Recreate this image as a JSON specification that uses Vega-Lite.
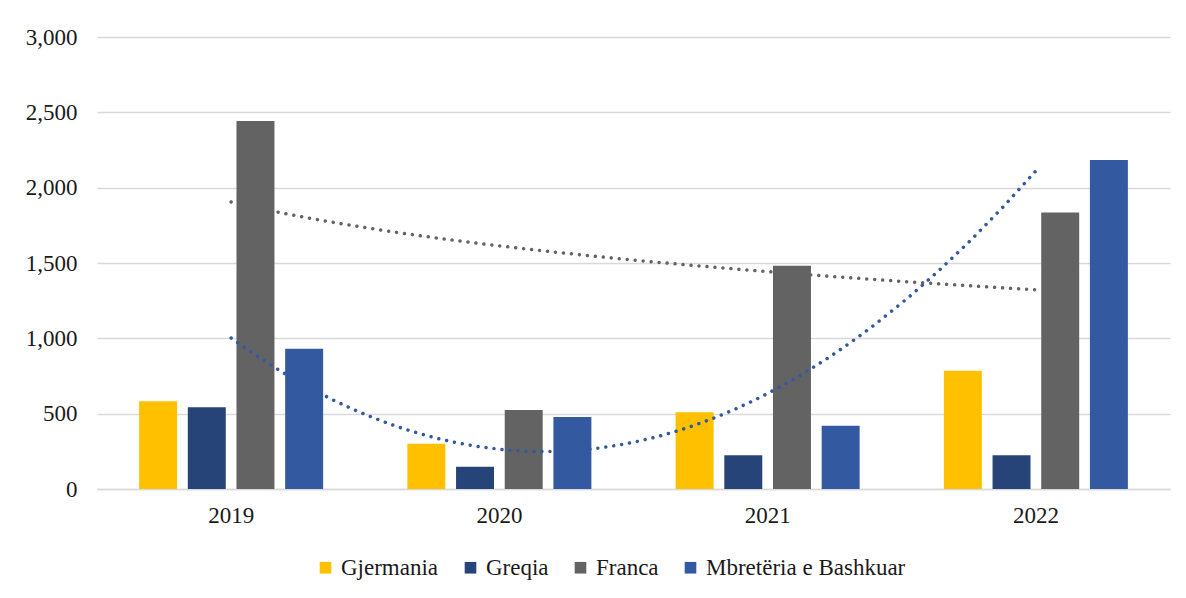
{
  "$schema": "https://vega.github.io/schema/vega-lite/v6.json",
  "width": 1073,
  "height": 452,
  "autosize": {"type": "none"},
  "padding": {"left": 97, "top": 37, "right": 16, "bottom": 109},
  "background": "white",
  "config": {
    "view": {"stroke": null},
    "font": "Liberation Serif",
    "axis": {"labelFont": "Liberation Serif", "labelFontSize": 23, "labelColor": "#1a1a1a"},
    "legend": {"labelFont": "Liberation Serif", "labelFontSize": 23, "labelColor": "#1a1a1a"}
  },
  "data": {
    "values": [
      {"year": "2019", "index": 1, "country": "Gjermania", "value": 582},
      {"year": "2019", "index": 1, "country": "Greqia", "value": 542},
      {"year": "2019", "index": 1, "country": "Franca", "value": 2442},
      {"year": "2019", "index": 1, "country": "Mbretëria e Bashkuar", "value": 931},
      {"year": "2020", "index": 2, "country": "Gjermania", "value": 301},
      {"year": "2020", "index": 2, "country": "Greqia", "value": 148},
      {"year": "2020", "index": 2, "country": "Franca", "value": 524},
      {"year": "2020", "index": 2, "country": "Mbretëria e Bashkuar", "value": 478},
      {"year": "2021", "index": 3, "country": "Gjermania", "value": 509},
      {"year": "2021", "index": 3, "country": "Greqia", "value": 224},
      {"year": "2021", "index": 3, "country": "Franca", "value": 1482},
      {"year": "2021", "index": 3, "country": "Mbretëria e Bashkuar", "value": 420},
      {"year": "2022", "index": 4, "country": "Gjermania", "value": 785},
      {"year": "2022", "index": 4, "country": "Greqia", "value": 224},
      {"year": "2022", "index": 4, "country": "Franca", "value": 1836},
      {"year": "2022", "index": 4, "country": "Mbretëria e Bashkuar", "value": 2183}
    ]
  },
  "layer": [
    {
      "mark": {"type": "bar"},
      "encoding": {
        "x": {
          "field": "year", "type": "ordinal",
          "scale": {"paddingInner": 0.314, "paddingOuter": 0.157},
          "axis": {"title": null, "labelAngle": 0, "ticks": false, "domainColor": "#d9d9d9", "domainWidth": 1.5, "labelPadding": 15, "labelFont": "Liberation Serif", "labelFontSize": 23}
        },
        "xOffset": {
          "field": "country", "type": "nominal",
          "sort": ["Gjermania", "Greqia", "Franca", "Mbretëria e Bashkuar"],
          "scale": {"paddingInner": 0.22, "paddingOuter": 0}
        },
        "y": {
          "field": "value", "type": "quantitative",
          "scale": {"domain": [0, 3000], "nice": false},
          "axis": {"title": null, "values": [0, 500, 1000, 1500, 2000, 2500, 3000], "format": ",.0f", "domain": false, "ticks": false, "gridColor": "#d9d9d9", "gridWidth": 1.4, "labelPadding": 20, "labelFont": "Liberation Serif", "labelFontSize": 23}
        },
        "color": {
          "field": "country", "type": "nominal",
          "scale": {
            "domain": ["Gjermania", "Greqia", "Franca", "Mbretëria e Bashkuar"],
            "range": ["#FFC000", "#264478", "#636363", "#335AA0"]
          },
          "legend": {
            "title": null, "orient": "none", "direction": "horizontal",
            "legendX": 217, "legendY": 519,
            "symbolType": "square", "symbolSize": 135, "symbolStrokeWidth": 0,
            "labelOffset": 4, "columnPadding": 20, "labelLimit": 400,
            "labelFont": "Liberation Serif", "labelFontSize": 23
          }
        }
      }
    },
    {
      "transform": [
        {"filter": "datum.country === 'Franca'"},
        {"regression": "value", "on": "index", "method": "log", "extent": [1, 4]}
      ],
      "mark": {"type": "line", "color": "#636363", "strokeWidth": 3.5, "strokeCap": "round", "strokeDash": [0.01, 8]},
      "encoding": {
        "x": {"field": "index", "type": "quantitative", "scale": {"domain": [0.5, 4.5], "nice": false, "zero": false}, "axis": null},
        "y": {"field": "value", "type": "quantitative"}
      }
    },
    {
      "transform": [
        {"filter": "datum.country === 'Mbretëria e Bashkuar'"},
        {"regression": "value", "on": "index", "method": "poly", "order": 2, "extent": [1, 4]}
      ],
      "mark": {"type": "line", "color": "#335AA0", "strokeWidth": 3.5, "strokeCap": "round", "strokeDash": [0.01, 8]},
      "encoding": {
        "x": {"field": "index", "type": "quantitative", "scale": {"domain": [0.5, 4.5], "nice": false, "zero": false}, "axis": null},
        "y": {"field": "value", "type": "quantitative"}
      }
    }
  ],
  "resolve": {"scale": {"x": "independent"}}
}
